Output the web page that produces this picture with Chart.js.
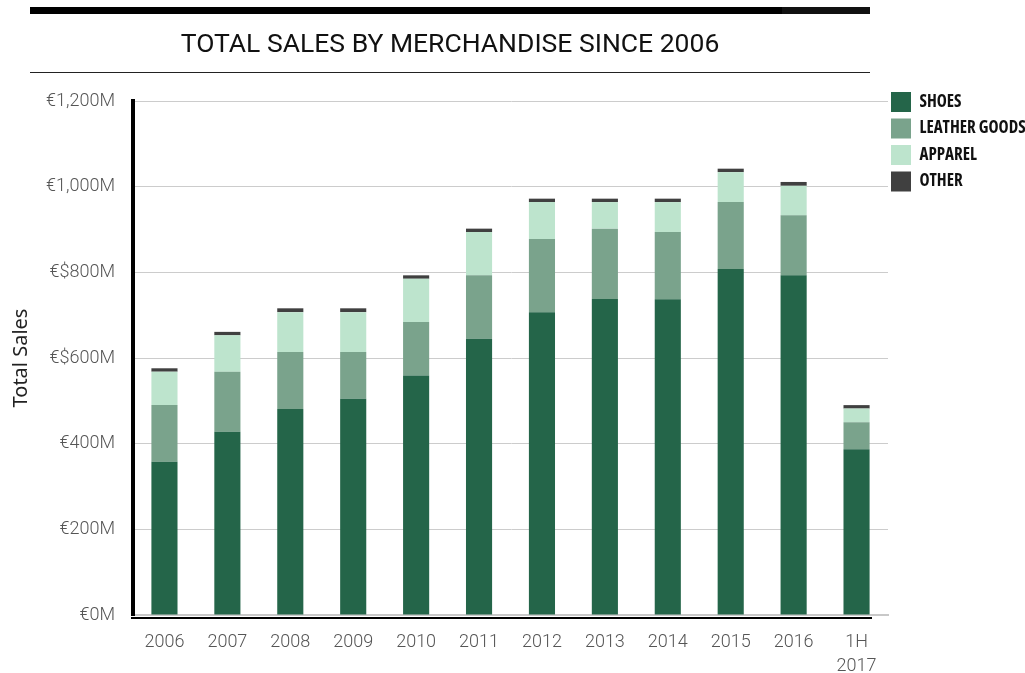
<!DOCTYPE html>
<html>
<head>
<meta charset="utf-8">
<title>Total Sales by Merchandise since 2006</title>
<script src="https://cdn.jsdelivr.net/npm/chart.js@4/dist/chart.umd.min.js"></script>
<style>
  html, body { margin: 0; padding: 0; background: #ffffff; }
  #wrap { width: 1025px; height: 673px; position: relative; }
  canvas { display: block; }
</style>
</head>
<body>
<div id="wrap"><canvas id="chart" width="1025" height="673"></canvas></div>
<script>
// Years shown along the bottom; the half-year label is split over two lines
const categories = ['2006', '2007', '2008', '2009', '2010', '2011', '2012', '2013', '2014', '2015', '2016', ['1H', '2017']];

// Sales per merchandise group, in € millions
const shoes        = [358, 428, 481, 505, 559, 645, 707, 738, 737, 808, 793, 387];
const leatherGoods = [132, 140, 133, 109, 125, 148, 171, 164, 157, 156, 140, 63];
const apparel      = [78, 85, 93, 93, 101, 101, 86, 62, 70, 70, 69, 32];
const other        = [8, 8, 9, 9, 8, 8, 8, 8, 8, 8, 9, 8];

// Value-axis labels, bottom to top
const yTickLabels = ['€0M', '€200M', '€400M', '€$600M', '€$800M', '€1,000M', '€1,200M'];

const seriesNames = ['SHOES', 'LEATHER GOODS', 'APPAREL', 'OTHER'];
const seriesColors = ['#246549', '#7aa38c', '#bde4cd', '#404040'];

const DIN_LIKE = "Roboto, 'Liberation Sans', sans-serif";
const CONDENSED = "'Open Sans', 'DejaVu Sans Condensed', sans-serif";

// Heavy rule above the heading, thin rule below it, and the black rule under the baseline
const rules = {
  id: 'rules',
  beforeDraw(chart) {
    const ctx = chart.ctx;
    const right = chart.chartArea.right - 18;
    ctx.save();
    ctx.fillStyle = '#000000';
    ctx.fillRect(30, 7, 752, 7);
    ctx.fillStyle = '#111111';
    ctx.fillRect(782, 7, right - 782, 7);
    ctx.strokeStyle = '#222222';
    ctx.lineWidth = 1;
    ctx.beginPath();
    ctx.moveTo(30, 72.5);
    ctx.lineTo(right, 72.5);
    ctx.stroke();
    ctx.restore();
  },
  afterDraw(chart) {
    const ctx = chart.ctx;
    const area = chart.chartArea;
    ctx.save();
    ctx.fillStyle = '#000000';
    ctx.fillRect(area.left - 2, area.bottom + 2, (area.right - 16) - (area.left - 2), 2);
    ctx.restore();
  }
};

// Centre the heading over the ruled band and lift the legend to the top of the plot
const placeBlocks = {
  id: 'placeBlocks',
  afterLayout(chart) {
    const area = chart.chartArea;
    const t = chart.titleBlock;
    if (t) {
      t.left = 30;
      t.right = area.right - 18;
      t.width = t.right - t.left;
    }
    const l = chart.legend;
    if (l) {
      l.top = area.top - 15.5;
      l.left = area.right - 3.5;
      l.right = chart.width;
      l.width = l.right - l.left;
      l.height = l.bottom - l.top;
    }
  }
};

const datasets = [shoes, leatherGoods, apparel, other].map((values, i) => ({
  label: seriesNames[i],
  data: values,
  backgroundColor: seriesColors[i],
  borderWidth: 0,
  stack: 'sales',
  categoryPercentage: 1,
  barPercentage: 0.415
}));

new Chart(document.getElementById('chart'), {
  type: 'bar',
  data: { labels: categories, datasets },
  plugins: [rules, placeBlocks],
  options: {
    responsive: false,
    animation: false,
    devicePixelRatio: 1,
    layout: { padding: 0 },
    plugins: {
      title: {
        display: true,
        text: 'TOTAL SALES BY MERCHANDISE SINCE 2006',
        color: '#111111',
        font: { family: DIN_LIKE, size: 26.5, weight: 'normal' },
        padding: { top: 29, bottom: 40.2 }
      },
      legend: {
        position: 'right',
        align: 'start',
        maxWidth: 137,
        labels: {
          boxWidth: 20,
          boxHeight: 20,
          padding: 6.5,
          color: '#111111',
          font: { family: CONDENSED, size: 17, weight: 'bold condensed' }
        }
      },
      tooltip: { enabled: false }
    },
    scales: {
      x: {
        stacked: true,
        grid: { display: false },
        border: { display: true, color: '#c8c8c8', width: 2 },
        ticks: {
          color: '#555555',
          font: { family: DIN_LIKE, size: 18, weight: '300', lineHeight: 1.33 },
          padding: 8,
          maxRotation: 0,
          autoSkip: false
        },
        afterFit(scale) { scale.height = 58; }
      },
      y: {
        stacked: true,
        min: 0,
        max: 1200,
        grid: { color: '#cccccc', lineWidth: 1, drawTicks: false },
        border: { display: true, color: '#000000', width: 4 },
        ticks: {
          stepSize: 200,
          color: '#555555',
          font: { family: DIN_LIKE, size: 18, weight: '300' },
          padding: 18,
          callback: (value, index) => yTickLabels[index]
        },
        title: {
          display: true,
          text: 'Total Sales',
          color: '#222222',
          font: { family: "'Noto Sans', 'Open Sans', sans-serif", size: 20 },
          padding: { top: 9, bottom: 0 }
        },
        afterFit(scale) { scale.width = 133; }
      }
    }
  }
});
</script>
</body>
</html>
